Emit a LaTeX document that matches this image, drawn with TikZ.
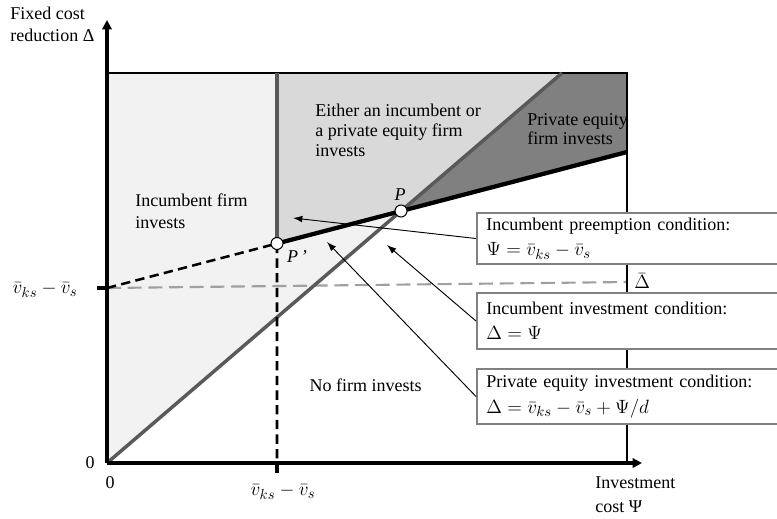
\documentclass[tikz,border=0pt]{standalone}
\usepackage{fontspec}
\setmainfont{Liberation Serif}
\usetikzlibrary{arrows.meta, calc}
\definecolor{RegLight}{RGB}{242,242,242}
\definecolor{RegMid}{RGB}{217,217,217}
\definecolor{RegDark}{RGB}{128,128,128}
\definecolor{LineGray}{RGB}{89,89,89}
\definecolor{DashGray}{RGB}{160,160,160}
\definecolor{BoxGray}{RGB}{128,128,128}

\tikzset{
  lbl/.style={font=\fontsize{13.5}{16.5}\selectfont, align=left, inner sep=0pt},
  mathlbl/.style={font=\fontsize{15}{18}\selectfont, inner sep=0pt},
  condbox/.style={draw=BoxGray, line width=1.5pt, fill=white, anchor=north west,
                  text width=250pt, inner xsep=7pt, inner ysep=1.5pt, align=left,
                  font=\fontsize{13.5}{19}\selectfont},
  callout/.style={-{Latex[length=7pt,width=5pt]}, line width=0.7pt},
  axis/.style={line width=2.6pt, -{Triangle[length=7pt,width=7pt]}},
  knot/.style={circle, draw, fill=white, line width=0.8pt, minimum size=9pt, inner sep=0pt}
}

\begin{document}
\begin{tikzpicture}[x=0.75pt, y=-0.75pt]
  \useasboundingbox (0,0) rectangle (777,518);
  \clip (0,0) rectangle (777,518);
  % corner points of the regions
  \coordinate (O)  at (107,463);
  \coordinate (TL) at (107,73);
  \coordinate (TR) at (627,73);
  \coordinate (BR) at (627,463);
  \coordinate (Vt) at (277,73);
  \coordinate (Pp) at (277,243.5);
  \coordinate (P)  at (401,211);
  \coordinate (Dt) at (562,73);
  \coordinate (Er) at (627,152);
  \coordinate (Ey) at (107,288);
  \coordinate (Vb) at (277,463);
  \coordinate (Dr) at (627,282);
  \coordinate (Ytip) at (107,20);
  \coordinate (Xtip) at (642,463);
  \coordinate (Ytick) at (97,288);
  \coordinate (Xtick) at (277,473);

  % regions
  \fill[RegLight] (O) -- (TL) -- (Vt) -- (Pp) -- (P) -- cycle;
  \fill[RegMid] (Vt) -- (Dt) -- (P) -- (Pp) -- cycle;
  \fill[RegDark] (Dt) -- (TR) -- (Er) -- (P) -- cycle;

  \draw[DashGray, line width=1.6pt, dash pattern=on 10.5pt off 5pt] (Ey) -- (Dr);
  \draw[line width=2pt] (TL) -- (TR) -- (BR);
  \draw[LineGray, line width=2.6pt] (O) -- (Dt);
  \draw[LineGray, line width=2.6pt] (Vt) -- (Pp);
  \draw[line width=1.9pt, dash pattern=on 7pt off 4pt] (Ey) -- (Pp) -- (Vb);
  \draw[line width=3.2pt] (Pp) -- (Er);

  % axes
  \draw[axis] (O) -- (Ytip);
  \draw[axis] (O) -- (Xtip);
  \draw[line width=2.5pt] (Ytick) -- (Ey);
  \draw[line width=2.5pt] (Vb) -- (Xtick);

  \node[knot] (kP) at (P) {};
  \node[knot] (kPp) at (Pp) {};

  % condition boxes
  \foreach \i/\ytop/\boxh/\head/\eq in {
    1/212/51/{Incumbent preemption condition:}/{$\Psi = \bar{v}_{ks} - \bar{v}_s$},
    2/292/56/{Incumbent investment condition:}/{$\Delta = \Psi$},
    3/368/55/{Private equity investment condition:}/{$\Delta = \bar{v}_{ks} - \bar{v}_s + \Psi/d$}
  } {
    \node[condbox, minimum height=\boxh*0.75pt] (box\i) at (476,\ytop)
          {\head\\{\fontsize{15}{19}\selectfont\eq}};
  }

  \coordinate (tip1) at (293,218);
  \coordinate (tip2) at (387,245);
  \coordinate (tip3) at (327,242);
  \draw[callout] (box1.west) -- (tip1);
  \draw[callout] (box2.west) -- (tip2);
  \draw[callout] (box3.west) -- (tip3);

  % labels
  \node[lbl, anchor=west] (ylab) at (10,24) {Fixed cost\\reduction Δ};
  \node[lbl, anchor=west, font=\fontsize{13.5}{18}\selectfont] (xlab) at (595,495)
        {Investment\\cost Ψ};
  \node[lbl, anchor=west] (rInc) at (135,211) {Incumbent firm\\invests};
  \node[lbl, anchor=west, font=\fontsize{13.5}{15}\selectfont] (rEither) at (315,130)
        {Either an incumbent or\\a private equity firm\\invests};
  \node[lbl, anchor=west, font=\fontsize{13.5}{14.5}\selectfont] (rPE) at (527,129)
        {Private equity\\firm invests};
  \node[lbl, anchor=east] (rNone) at (422,385) {No firm invests};
  \node[lbl] (lP) at (400,195) {\textit{P}};
  \node[lbl] (lPp) at (297,257) {\textit{P\,’}};
  \node[lbl] (zeroY) at (90,463) {0};
  \node[lbl] (zeroX) at (110,483) {0};
  \node[mathlbl] (xtl) at (283,492) {$\bar{v}_{ks} - \bar{v}_s$};
  \node[mathlbl] (ytl) at (45,290) {$\bar{v}_{ks} - \bar{v}_s$};
  \node[mathlbl, anchor=west] (dbar) at (634,281) {$\bar{\Delta}$};
\end{tikzpicture}
\end{document}
